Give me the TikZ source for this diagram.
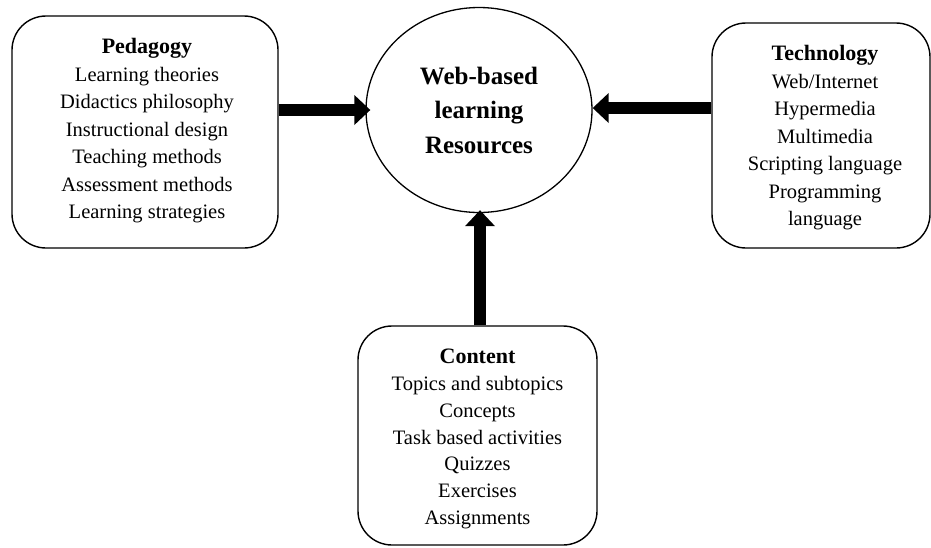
\documentclass[tikz,border=0pt]{standalone}
\usepackage{fontspec}
\setmainfont{Liberation Serif}
\usetikzlibrary{arrows.meta,shapes.geometric}
\begin{document}
\begin{tikzpicture}[x=1pt,y=-1pt,
  infobox/.style={draw=black,line width=1.4pt,rounded corners=34pt,inner sep=0pt},
  infotext/.style={align=center,inner sep=0pt,font=\fontsize{20.5}{27.5}\selectfont},
  hubnode/.style={draw=black,line width=1.3pt,ellipse,inner sep=0pt,align=center,
    minimum width=226pt,minimum height=205pt,font=\fontsize{25}{34.5}\selectfont\bfseries},
  bigarrow/.style={line width=12pt,-{Triangle[length=16pt,width=29pt]}}]
\useasboundingbox (0,0) rectangle (931,547);
\node[hubnode] (web) at (479,110) {Web-based\\learning\\Resources};
\node[infobox,minimum width=266pt,minimum height=232pt] (ped) at (145,132) {};
\node[infotext] (pedtext) at (147,131)
  {{\fontsize{22}{27.5}\selectfont\bfseries Pedagogy}\\Learning theories\\Didactics philosophy\\Instructional design\\Teaching methods\\Assessment methods\\Learning strategies};
\node[infobox,minimum width=218pt,minimum height=225pt] (tech) at (821,135.5) {};
\node[infotext] (techtext) at (825,138)
  {{\fontsize{22}{27.5}\selectfont\bfseries Technology}\\Web/Internet\\Hypermedia\\Multimedia\\Scripting language\\Programming\\language};
\node[infobox,minimum width=239pt,minimum height=219pt] (cont) at (477.5,435.5) {};
\node[infotext,font=\fontsize{20.5}{26.8}\selectfont] (conttext) at (477.5,439)
  {{\fontsize{22}{26.8}\selectfont\bfseries Content}\\Topics and subtopics\\Concepts\\Task based activities\\Quizzes\\Exercises\\Assignments};
\draw[bigarrow,shorten >=-5pt] (ped.east |- web) -- (web.west);
\draw[bigarrow] ([yshift=2pt]tech.west |- web) -- ([yshift=2pt]web.east);
\draw[bigarrow,shorten >=-3pt] ([xshift=2.5pt]cont.north) -- ([xshift=2.5pt]cont.north |- web.south);
\end{tikzpicture}
\end{document}
